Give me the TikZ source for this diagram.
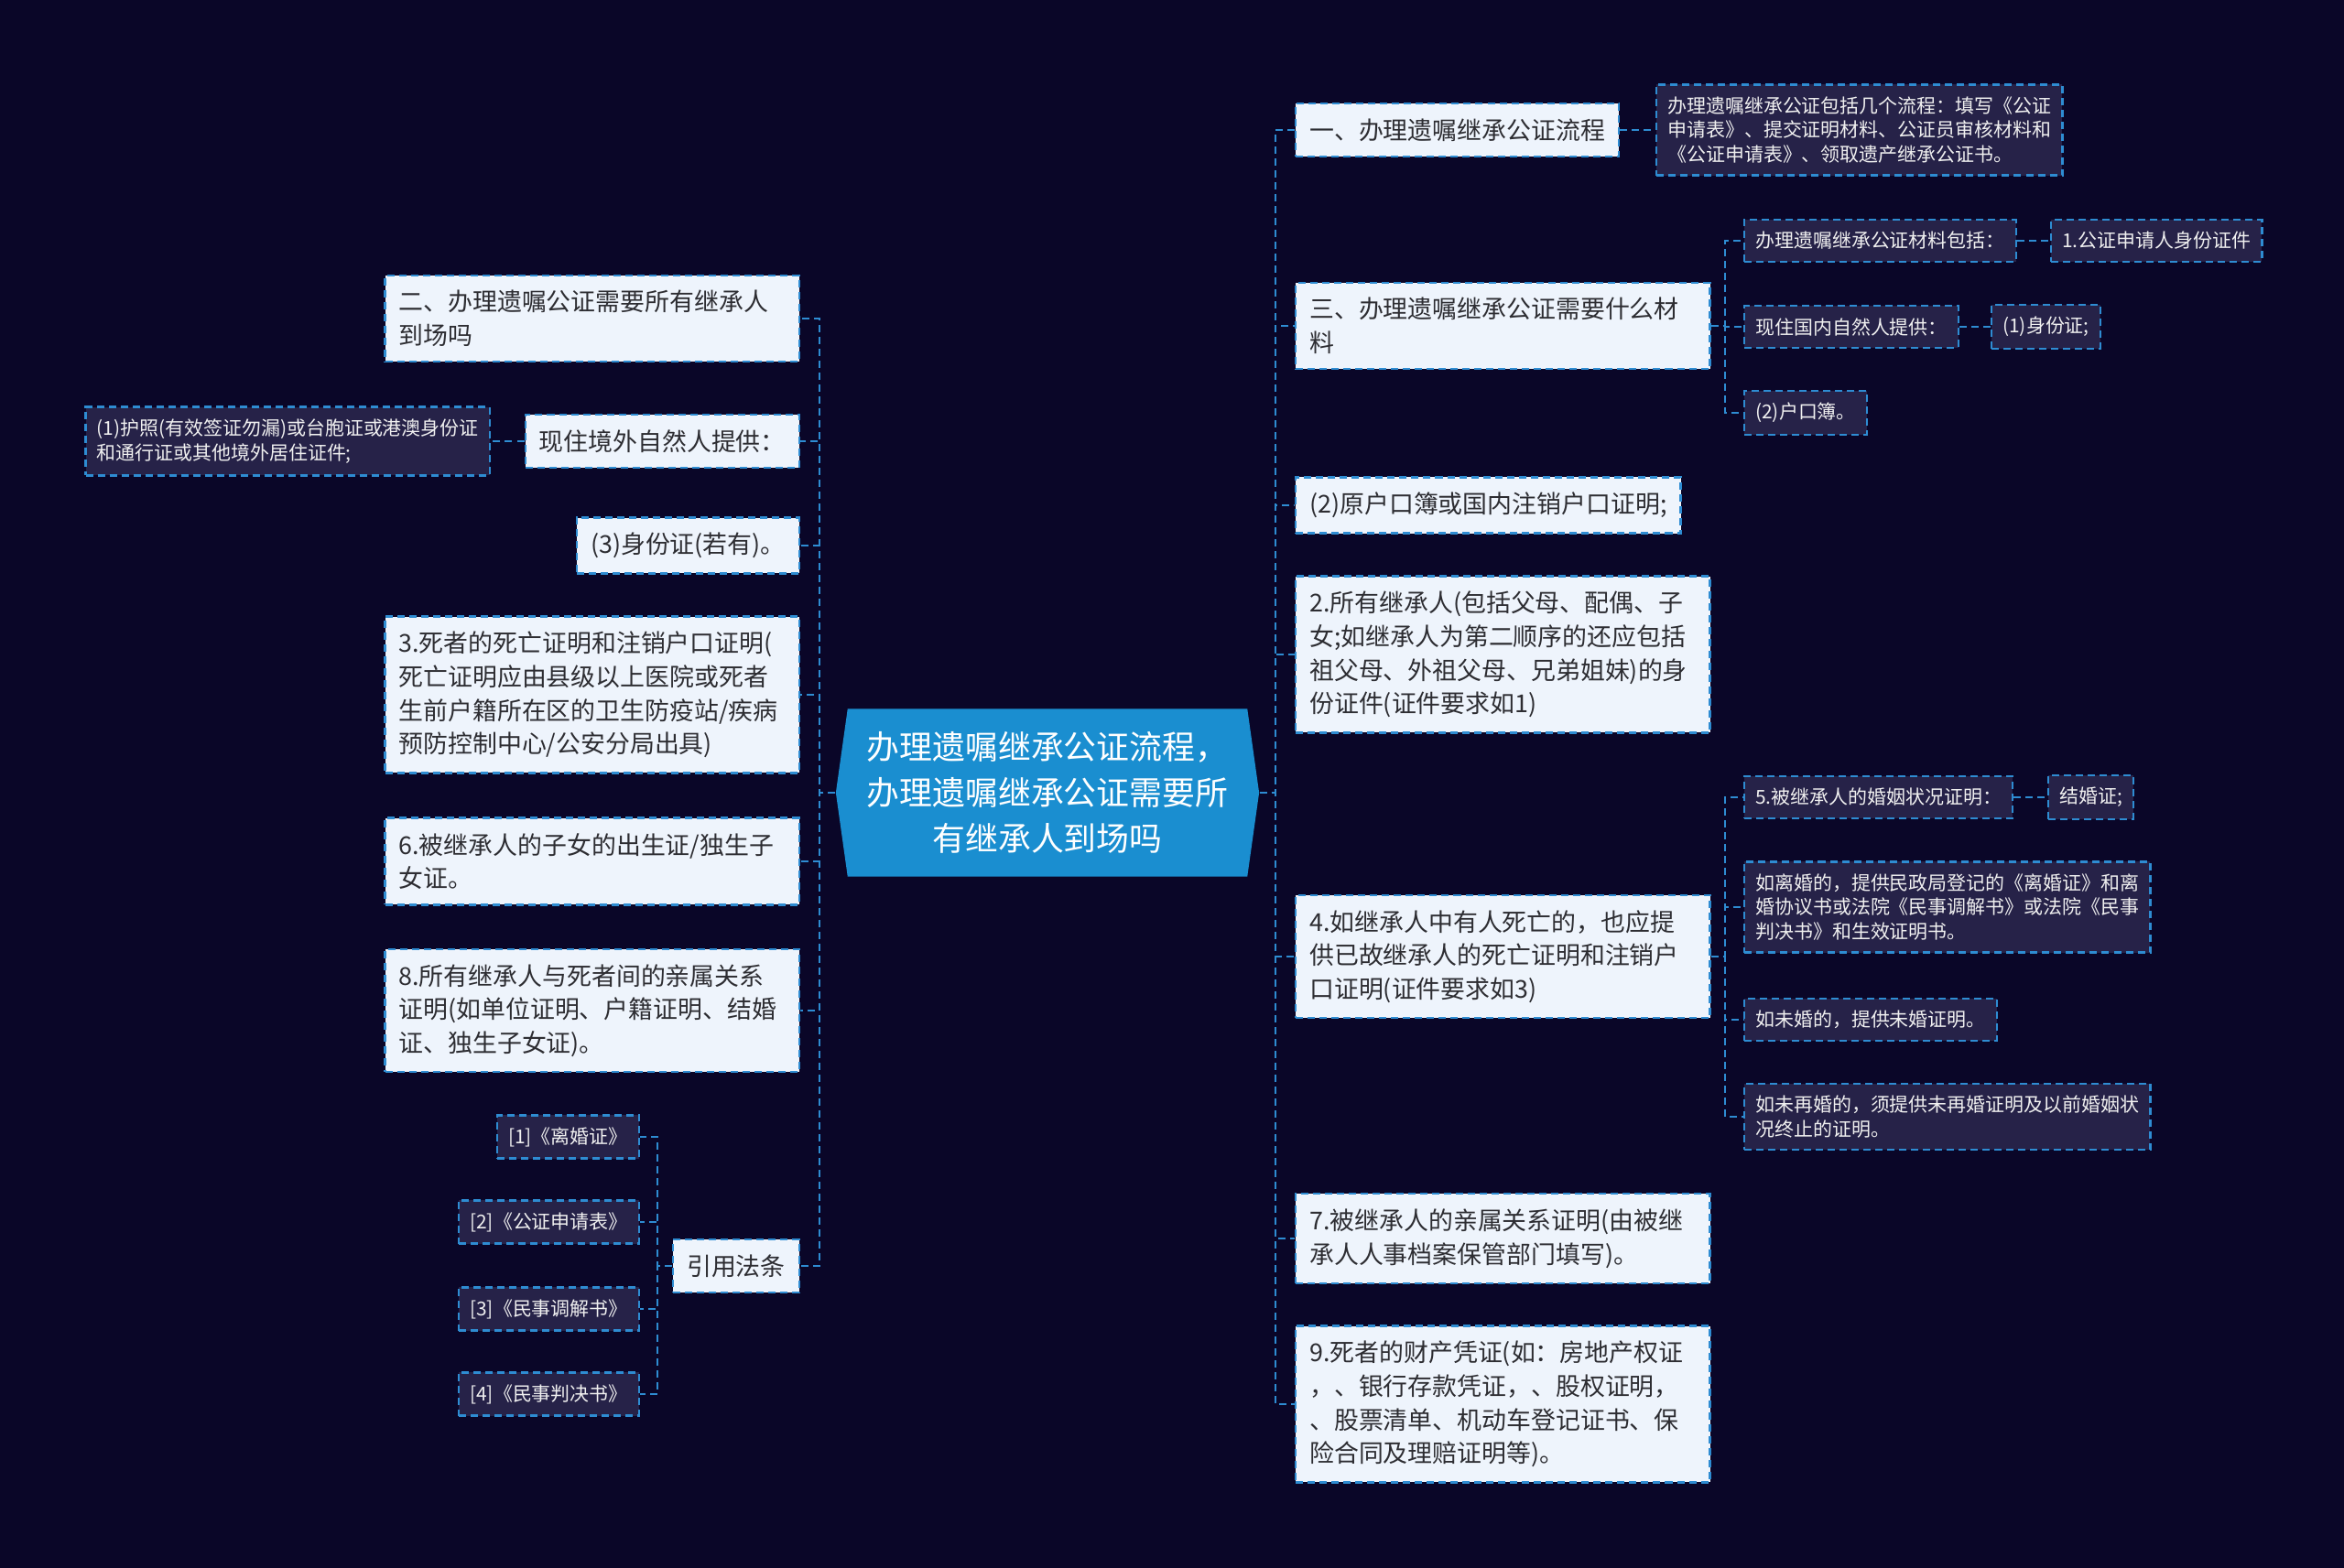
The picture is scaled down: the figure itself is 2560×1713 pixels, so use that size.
\documentclass[tikz,border=0pt]{standalone}
\usepackage{fontspec}
\setmainfont{Noto Sans CJK SC}
\usetikzlibrary{shapes.symbols}
\definecolor{bgc}{RGB}{10,6,40}
\definecolor{edg}{RGB}{46,140,210}
\definecolor{ltf}{RGB}{238,244,252}
\definecolor{dkf}{RGB}{38,34,72}
\definecolor{hubf}{RGB}{26,142,208}
\definecolor{txt}{RGB}{45,45,50}
\tikzset{
  lt/.style ={draw=edg,fill=ltf,dash pattern=on .08cm off .05cm,line width=.7pt,
              text=txt,align=left,inner xsep=.15cm,inner ysep=.165cm,
              font=\fontsize{7.65}{10.4}\selectfont},
  ltw/.style={lt,text width=4.22cm},
  dk/.style ={draw=edg,fill=dkf,dash pattern=on .08cm off .05cm,line width=.7pt,
              text=white!94!black,align=left,inner xsep=.12cm,inner ysep=.13cm,
              font=\fontsize{5.96}{7.65}\selectfont},
  lnk/.style={draw=edg,dash pattern=on .08cm off .05cm,line width=.7pt},
  hub/.style={signal,signal to=west and east,signal pointer angle=164,fill=hubf,
              text=white,align=center,font=\fontsize{10.2}{14.2}\selectfont,
              minimum width=4.62cm,minimum height=1.83cm,inner sep=0pt},
}
\begin{document}
\begin{tikzpicture}[x=0.01cm,y=-0.01cm]
  \fill[bgc] (0,0) rectangle (2560,1713);
  \node[hub] (ctr) at (1144,866){办理遗嘱继承公证流程，\\办理遗嘱继承公证需要所\\有继承人到场吗};
  % right branch
  \node[lt,anchor=west]  (r1) at (1414,142){一、办理遗嘱继承公证流程};
  \node[ltw,anchor=west] (r2) at (1414,356){三、办理遗嘱继承公证需要什么材\\料};
  \node[lt,anchor=west]  (r3) at (1414,552){(2)原户口簿或国内注销户口证明;};
  \node[ltw,anchor=west] (r4) at (1414,715){2.所有继承人(包括父母、配偶、子\\女;如继承人为第二顺序的还应包括\\祖父母、外祖父母、兄弟姐妹)的身\\份证件(证件要求如1)};
  \node[ltw,anchor=west] (r5) at (1414,1045){4.如继承人中有人死亡的，也应提\\供已故继承人的死亡证明和注销户\\口证明(证件要求如3)};
  \node[ltw,anchor=west] (r6) at (1414,1353){7.被继承人的亲属关系证明(由被继\\承人人事档案保管部门填写)。};
  \node[ltw,anchor=west] (r7) at (1414,1534){9.死者的财产凭证(如：房地产权证\\，、银行存款凭证，、股权证明，\\、股票清单、机动车登记证书、保\\险合同及理赔证明等)。};
  \node[dk,anchor=west] (r1a) at (1808,142){办理遗嘱继承公证包括几个流程：填写《公证\\申请表》、提交证明材料、公证员审核材料和\\《公证申请表》、领取遗产继承公证书。};
  \node[dk,anchor=west] (r2a)  at (1904,263){办理遗嘱继承公证材料包括：};
  \node[dk,anchor=west] (r2a1) at (2239,263){1.公证申请人身份证件};
  \node[dk,anchor=west] (r2b)  at (1904,357){现住国内自然人提供：};
  \node[dk,anchor=west] (r2b1) at (2174,357){(1)身份证;};
  \node[dk,anchor=west] (r2c)  at (1904,451){(2)户口簿。};
  \node[dk,anchor=west] (r5a)  at (1904,871){5.被继承人的婚姻状况证明：};
  \node[dk,anchor=west] (r5a1) at (2236,871){结婚证;};
  \node[dk,anchor=west] (r5b)  at (1904,991){如离婚的，提供民政局登记的《离婚证》和离\\婚协议书或法院《民事调解书》或法院《民事\\判决书》和生效证明书。};
  \node[dk,anchor=west] (r5c)  at (1904,1114){如未婚的，提供未婚证明。};
  \node[dk,anchor=west] (r5d)  at (1904,1220){如未再婚的，须提供未再婚证明及以前婚姻状\\况终止的证明。};
  % left branch
  \node[ltw,anchor=east] (l1) at (874,348){二、办理遗嘱公证需要所有继承人\\到场吗};
  \node[lt,anchor=east]  (l2) at (874,482){现住境外自然人提供：};
  \node[lt,anchor=east]  (l3) at (874,596){(3)身份证(若有)。};
  \node[ltw,anchor=east] (l4) at (874,759){3.死者的死亡证明和注销户口证明(\\死亡证明应由县级以上医院或死者\\生前户籍所在区的卫生防疫站/疾病\\预防控制中心/公安分局出具)};
  \node[ltw,anchor=east] (l5) at (874,941){6.被继承人的子女的出生证/独生子\\女证。};
  \node[ltw,anchor=east] (l6) at (874,1104){8.所有继承人与死者间的亲属关系\\证明(如单位证明、户籍证明、结婚\\证、独生子女证)。};
  \node[lt,anchor=east]  (l7) at (874,1383){引用法条};
  \node[dk,anchor=east] (l2a) at (536,482){(1)护照(有效签证勿漏)或台胞证或港澳身份证\\和通行证或其他境外居住证件;};
  \node[dk,anchor=east] (l7a) at (699,1242){[1]《离婚证》};
  \node[dk,anchor=east] (l7b) at (699,1335){[2]《公证申请表》};
  \node[dk,anchor=east] (l7c) at (699,1430){[3]《民事调解书》};
  \node[dk,anchor=east] (l7d) at (699,1523){[4]《民事判决书》};
  % links
  \coordinate (rsp) at (1393,866);
  \coordinate (lsp) at (895,866);
  \coordinate (r2sp) at (1884,356);
  \coordinate (r5sp) at (1884,1045);
  \coordinate (l7sp) at (718,1383);
  \foreach \n in {r1,r2,r3,r4,r5,r6,r7}
    \draw[lnk] (ctr.east) -- (rsp) |- (\n.west);
  \foreach \n in {l1,l2,l3,l4,l5,l6,l7}
    \draw[lnk] (ctr.west) -- (lsp) |- (\n.east);
  \foreach \n in {r2a,r2b,r2c}
    \draw[lnk] (r2.east) -- (r2sp) |- (\n.west);
  \foreach \n in {r5a,r5b,r5c,r5d}
    \draw[lnk] (r5.east) -- (r5sp) |- (\n.west);
  \foreach \n in {l7a,l7b,l7c,l7d}
    \draw[lnk] (l7.west) -- (l7sp) |- (\n.east);
  \draw[lnk] (r1.east) -- (r1a.west);
  \draw[lnk] (r2a.east) -- (r2a1.west);
  \draw[lnk] (r2b.east) -- (r2b1.west);
  \draw[lnk] (r5a.east) -- (r5a1.west);
  \draw[lnk] (l2.west) -- (l2a.east);
\end{tikzpicture}
\end{document}
